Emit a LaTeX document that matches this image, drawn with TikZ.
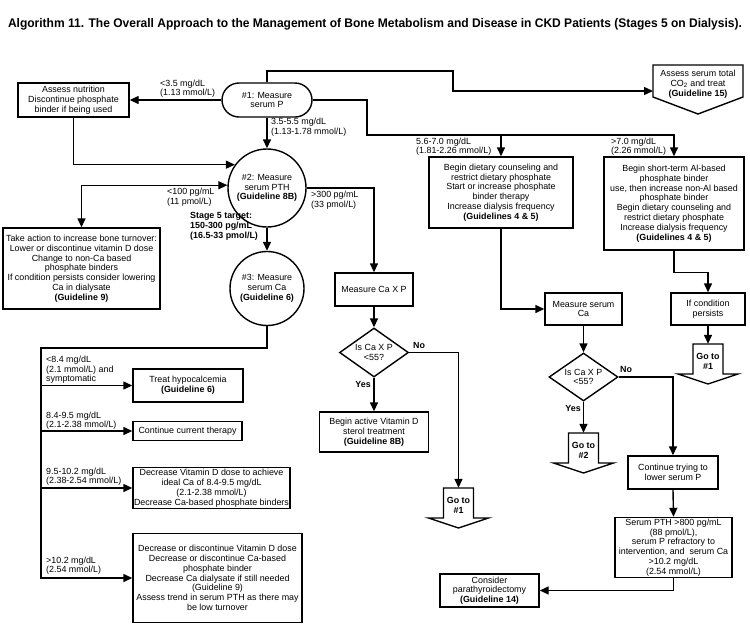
\documentclass[tikz,border=0pt]{standalone}
\usepackage{fontspec}
\usepackage{graphicx}
\setmainfont{Liberation Sans}
\usetikzlibrary{arrows.meta,shapes.geometric,calc}
\newcommand\fs{\fontsize{8.9}{9.8}\selectfont}
\newcommand\gotoshape[1]{\draw[ln] ($(#1)+(-15,-17)$) -- ($(#1)+(15,-17)$) -- ($(#1)+(15,13)$) -- ($(#1)+(30,13)$) -- ($(#1)+(0,23)$) -- ($(#1)+(-30,13)$) -- ($(#1)+(-15,13)$) -- cycle;}
\begin{document}
\begin{tikzpicture}[x=1pt,y=-1pt,
  box/.style={draw, line width=1.4pt, align=center, inner sep=0pt, font=\fs},
  lbl/.style={align=left, inner sep=0pt, font=\fs},
  gotxt/.style={align=center, inner sep=0pt, font=\fs\bfseries, minimum width=30pt, minimum height=34pt},
  ln/.style={line width=1.4pt},
  arr/.style={line width=1.4pt, -{Triangle[length=9pt,width=8pt]}},
  arrboth/.style={line width=1.4pt, {Triangle[length=9pt,width=8pt]}-{Triangle[length=9pt,width=8pt]}}]
\useasboundingbox (0,0) rectangle (750,625);
\fill[white] (0,0) rectangle (750,625);
\node[inner sep=0pt] (title) at (375,24) {\resizebox{734pt}{\height}{\fontsize{12.5}{14}\selectfont\bfseries Algorithm 11. The Overall Approach to the Management of Bone Metabolism and Disease in CKD Patients (Stages 5 on Dialysis).}};

\node[box, minimum width=111pt, minimum height=34pt] (n1) at (73.5,100) {Assess nutrition\\Discontinue phosphate\\binder if being used};
\node[box, rounded corners=17pt, minimum width=90pt, minimum height=34pt] (p1) at (267,100) {\#1: Measure\\serum P};
\node[align=center, inner sep=0pt, font=\fs, minimum width=90pt] (co2) at (698,84) {Assess serum total\\CO\textsubscript{2} and treat\\\textbf{(Guideline 15)}};
\draw[ln] ($(co2)+(-45,-19)$) -- ($(co2)+(45,-19)$) -- ($(co2)+(45,13)$) -- ($(co2)+(0,30)$) -- ($(co2)+(-45,13)$) -- cycle;
\coordinate (co2in) at ($(co2)+(-45,7)$);

\node[box, minimum width=144pt, minimum height=71pt] (diet) at (501,192.5) {Begin dietary counseling and\\restrict dietary phosphate\\Start or increase phosphate\\binder therapy\\Increase dialysis frequency\\\textbf{(Guidelines 4 \& 5)}};
\node[box, minimum width=140pt, minimum height=93pt] (al) at (674,203.5) {Begin short-term Al-based\\phosphate binder\\use, then increase non-Al based\\phosphate binder\\Begin dietary counseling and\\restrict dietary phosphate\\Increase dialysis frequency\\\textbf{(Guidelines 4 \& 5)}};
\node[box, circle, minimum size=78pt] (c2) at (267,188) {\#2: Measure\\serum PTH\\\textbf{(Guideline 8B)}};
\node[box, minimum width=157pt, minimum height=81pt] (take) at (81.5,268.5) {Take action to increase bone turnover:\\Lower or discontinue vitamin D dose\\Change to non-Ca based\\phosphate binders\\If condition persists consider lowering\\Ca in dialysate\\\textbf{(Guideline 9)}};
\node[box, circle, minimum size=74pt] (c3) at (267,288.5) {\#3: Measure\\serum Ca\\\textbf{(Guideline 6)}};
\node[box, minimum width=78pt, minimum height=33pt] (cxp) at (374,289.5) {Measure Ca X P};
\node[box, diamond, aspect=1.4, minimum width=69pt, minimum height=49pt] (d1) at (374,352.5) {Is Ca X P\\<55?};
\node[box, minimum width=109pt, minimum height=40pt] (vitd) at (374,432) {Begin active Vitamin D\\sterol treatment\\\textbf{(Guideline 8B)}};
\node[gotxt] (g1m) at (458.5,505) {Go to\\\#1};
\node[box, minimum width=77pt, minimum height=32pt] (mca) at (583.5,309) {Measure serum\\Ca};
\node[box, diamond, aspect=1.4, minimum width=69pt, minimum height=48pt] (d2) at (583.5,377) {Is Ca X P\\<55?};
\node[gotxt] (g2) at (583.5,450) {Go to\\\#2};
\node[box, minimum width=74pt, minimum height=32pt] (ifc) at (708,309) {If condition\\persists};
\node[gotxt] (g1r) at (708,361) {Go to\\\#1};
\node[box, minimum width=90pt, minimum height=33pt] (ctry) at (673,472.5) {Continue trying to\\lower serum P};
\node[box, minimum width=117pt, minimum height=60pt] (spth) at (673.5,547.5) {Serum PTH >800 pg/mL\\(88 pmol/L),\\serum P refractory to\\intervention, and \ serum Ca\\>10.2 mg/dL\\(2.54 mmol/L)};
\node[box, minimum width=99pt, minimum height=33pt] (cons) at (489.5,590.5) {Consider\\parathyroidectomy\\\textbf{(Guideline 14)}};
\node[box, minimum width=110pt, minimum height=33pt] (hypo) at (188,385.5) {Treat hypocalcemia\\\textbf{(Guideline 6)}};
\node[box, minimum width=109pt, minimum height=19pt] (cont) at (187.5,431) {Continue current therapy};
\node[box, minimum width=157pt, minimum height=41pt] (dec1) at (211.5,488) {Decrease Vitamin D dose to achieve\\ideal Ca of 8.4-9.5 mg/dL\\(2.1-2.38 mmol/L)\\Decrease Ca-based phosphate binders};
\node[box, minimum width=169pt, minimum height=89pt] (dec2) at (217.5,578) {Decrease or discontinue Vitamin D dose\\Decrease or discontinue Ca-based\\phosphate binder\\Decrease Ca dialysate if still needed\\(Guideline 9)\\Assess trend in serum PTH as there may\\be low turnover};

\gotoshape{g1m}
\gotoshape{g2}
\gotoshape{g1r}

% connectors
\draw[arr] (p1.west) -- (n1.east);
\draw[arr] (p1.north) |- (453,71) |- (co2in);
\draw[arr] (p1.east) -| (367,135) -| (al.north);
\draw[arr] ($(diet.north)+(0,-22)$) -- (diet.north);
\draw[arr] (p1.south) -- (c2.north);
\draw[arr] (n1.south) |- (c2.144);
\draw[arrboth] (take.north) |- (c2.176);
\draw[arr] (c2.east) -| (cxp.north);
\draw[arr] (c2.south) -- (c3.north);
\coordinate (spine) at (41,348);
\draw[arr] (c3.south) |- (spine) |- (dec2.west);
\draw[arr] (spine |- hypo.west) -- (hypo.west);
\draw[arr] (spine |- cont.west) -- (cont.west);
\draw[arr] (spine |- dec1.west) -- (dec1.west);
\draw[arr] (cxp.south) -- (d1.north);
\draw[arr] (d1.south) -- (vitd.north);
\draw[arr] (d1.east) -| (g1m.north);
\draw[arr] (diet.south) |- (mca.west);
\draw[arr] (mca.south) -- (d2.north);
\draw[arr] (d2.south) -- (g2.north);
\draw[arr] (d2.east) -| (ctry.north);
\draw[arr] (al.south) -- ++(0,22) -| (ifc.north);
\draw[arr] (ifc.south) -- (g1r.north);
\draw[arr] (ctry.south) -- (spth.north);
\draw[arr] (spth.south) |- (cons.east);

% labels
\node[lbl, anchor=south west] (l1) at (160,98) {<3.5 mg/dL\\(1.13 mmol/L)};
\node[lbl, anchor=north west] (l2) at (271,118) {3.5-5.5 mg/dL\\(1.13-1.78 mmol/L)};
\node[lbl, anchor=south west] (l3) at (416,156) {5.6-7.0 mg/dL\\(1.81-2.26 mmol/L)};
\node[lbl, anchor=south west] (l4) at (611,156) {>7.0 mg/dL\\(2.26 mmol/L)};
\node[lbl, anchor=north west] (l5) at (167,188) {<100 pg/mL\\(11 pmol/L)};
\node[lbl, anchor=north west] (l6) at (311,191) {>300 pg/mL\\(33 pmol/L)};
\node[lbl, font=\fs\bfseries, anchor=north west] (l7) at (190,212) {Stage 5 target:\\150-300 pg/mL\\(16.5-33 pmol/L)};
\node[lbl, anchor=south west] (l8) at (46,384) {<8.4 mg/dL\\(2.1 mmol/L) and\\symptomatic};
\node[lbl, anchor=south west] (l9) at (46,430) {8.4-9.5 mg/dL\\(2.1-2.38 mmol/L)};
\node[lbl, anchor=south west] (l10) at (46,486) {9.5-10.2 mg/dL\\(2.38-2.54 mmol/L)};
\node[lbl, anchor=south west] (l11) at (46,575) {>10.2 mg/dL\\(2.54 mmol/L)};
\node[lbl, font=\fs\bfseries, anchor=west] (no1) at (413,345) {No};
\node[lbl, font=\fs\bfseries, anchor=east] (yes1) at (371,384) {Yes};
\node[lbl, font=\fs\bfseries, anchor=west] (no2) at (620,369) {No};
\node[lbl, font=\fs\bfseries, anchor=east] (yes2) at (581,408) {Yes};
\end{tikzpicture}
\end{document}
